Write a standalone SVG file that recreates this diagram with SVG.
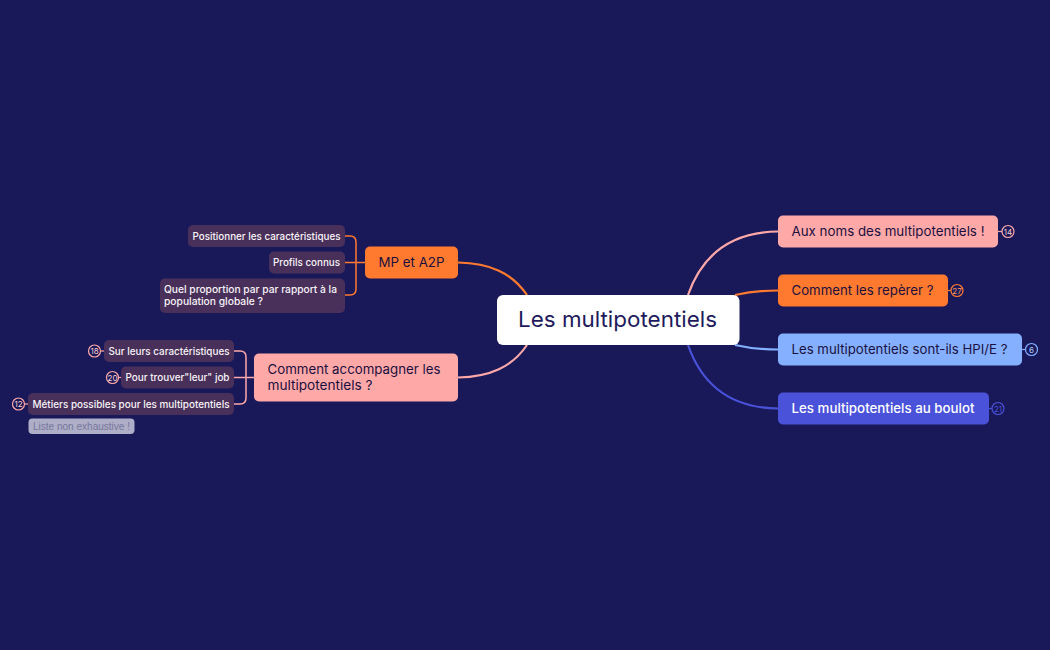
<svg xmlns="http://www.w3.org/2000/svg" width="1050" height="650" viewBox="0 0 1050 650">
<style>
text{font-family:"Inter","Noto Sans",sans-serif;}
.c{fill:none;stroke-width:2.2;}
.pk{stroke:#ffa8a8;}.or{stroke:#ff7a2e;}.bl{stroke:#85b0ff;}.in{stroke:#4a52d9;}
.t1{font-size:13px;fill:#1a1040;}
.t2{font-size:10px;fill:#f8f4f8;font-weight:500;}
.s{fill:#48305a;}
.b{fill:none;stroke-width:1.2;}
.bn{font-size:8px;text-anchor:middle;}
</style>
<rect width="1050" height="650" fill="#19195a"/>
<g id="connectors">
<path class="c pk" d="M688 295C702 255 730 232 778 231.500"/>
<path class="c or" d="M735 295C748 292 760 290.500 778 290.500"/>
<path class="c bl" d="M735 345C748 348 760 349.500 778 349.500"/>
<path class="c in" d="M688 345C702 385 730 408 778 408.500"/>
<path class="c or" d="M458 262.500C490 263 512 273 527 295"/>
<path class="c pk" d="M458 377.500C490 377 512 367 527 345"/>
<path class="c or" style="stroke-width:1.5" d="M345 236H350Q356 236 356 242V289Q356 295 350 295H345M345 262.500H365"/>
<path class="c pk" style="stroke-width:1.5" d="M234 351H240Q246 351 246 357V398Q246 404 240 404H234M234 377.500H254"/>
</g>
<g id="root"><rect x="497" y="295" width="242.500" height="50" rx="6" fill="#fff"/><text x="518" y="327" font-size="22" fill="#1e1a5c" textLength="199" lengthAdjust="spacingAndGlyphs">Les multipotentiels</text></g>
<g id="n-aux"><rect x="778" y="215.500" width="220" height="32" rx="5" fill="#ffa8a8"/><text class="t1" x="791.500" y="236" textLength="193" lengthAdjust="spacingAndGlyphs">Aux noms des multipotentiels !</text>
<path class="b" stroke="#ffa8a8" d="M998 231.500H1002"/><circle cx="1008" cy="231.500" r="6" class="b" stroke="#ffa8a8"/><text class="bn" x="1008" y="234.500" fill="#ffd0d0">14</text></g>
<g id="n-rep"><rect x="778" y="274.500" width="170" height="32" rx="5" fill="#ff7a2e"/><text class="t1" x="791.500" y="295" textLength="142" lengthAdjust="spacingAndGlyphs">Comment les repèrer ?</text>
<path class="b" stroke="#ff7a2e" d="M948 290.500H951"/><circle cx="957" cy="290.500" r="6" class="b" stroke="#ff7a2e"/><text class="bn" x="957" y="293.500" fill="#ff9a5e">27</text></g>
<g id="n-hpi"><rect x="778" y="333.500" width="244" height="32" rx="5" fill="#85b0ff"/><text class="t1" x="791.500" y="354" textLength="216" lengthAdjust="spacingAndGlyphs">Les multipotentiels sont-ils HPI/E ?</text>
<path class="b" stroke="#85b0ff" d="M1022 349.500H1025"/><circle cx="1031.500" cy="349.500" r="6" class="b" stroke="#85b0ff"/><text class="bn" x="1031.500" y="352.500" fill="#b0ccff">6</text></g>
<g id="n-boulot"><rect x="778" y="392.500" width="211" height="32" rx="5" fill="#4a52d9"/><text class="t1" style="fill:#fff;font-weight:500" x="791.500" y="413" textLength="183" lengthAdjust="spacingAndGlyphs">Les multipotentiels au boulot</text>
<path class="b" stroke="#4a52d9" d="M989 408.500H992"/><circle cx="998" cy="408.500" r="6" class="b" stroke="#4a52d9"/><text class="bn" x="998" y="411.500" fill="#4a52d9">21</text></g>
<g id="n-mp"><rect x="365" y="246.500" width="93" height="32" rx="5" fill="#ff7a2e"/><text class="t1" x="378.500" y="267" textLength="66" lengthAdjust="spacingAndGlyphs">MP et A2P</text></g>
<g id="n-acc"><rect x="254" y="353.500" width="204" height="48" rx="5" fill="#ffa8a8"/><text class="t1" x="267.500" y="374" textLength="173" lengthAdjust="spacingAndGlyphs">Comment accompagner les</text><text class="t1" x="267.500" y="390" textLength="105" lengthAdjust="spacingAndGlyphs">multipotentiels ?</text></g>
<g id="n-pos"><rect class="s" x="188" y="225" width="157" height="22" rx="5"/><text class="t2" x="192.500" y="240" textLength="148" lengthAdjust="spacingAndGlyphs">Positionner les caractéristiques</text></g>
<g id="n-pro"><rect class="s" x="269" y="251.500" width="76" height="22" rx="5"/><text class="t2" x="273" y="266" textLength="67" lengthAdjust="spacingAndGlyphs">Profils connus</text></g>
<g id="n-quel"><rect class="s" x="160" y="278.500" width="185" height="34.500" rx="5"/><text class="t2" x="164" y="293" textLength="173" lengthAdjust="spacingAndGlyphs">Quel proportion par par rapport à la</text><text class="t2" x="164" y="305" textLength="99" lengthAdjust="spacingAndGlyphs">population globale ?</text></g>
<g id="n-sur"><rect class="s" x="104" y="340" width="130" height="22" rx="5"/><text class="t2" x="108.500" y="354.500" textLength="121" lengthAdjust="spacingAndGlyphs">Sur leurs caractéristiques</text>
<path class="b" stroke="#ffa8a8" d="M101 351H104"/><circle cx="94.500" cy="351" r="6" class="b" stroke="#ffa8a8"/><text class="bn" x="94.500" y="354" fill="#ffd0d0">18</text></g>
<g id="n-job"><rect class="s" x="121" y="366.500" width="113" height="22" rx="5"/><text class="t2" x="125.500" y="381" textLength="104" lengthAdjust="spacingAndGlyphs">Pour trouver"leur" job</text>
<path class="b" stroke="#ffa8a8" d="M118 377.500H121"/><circle cx="112.500" cy="377.500" r="6" class="b" stroke="#ffa8a8"/><text class="bn" x="112.500" y="380.500" fill="#ffd0d0">20</text></g>
<g id="n-met"><rect class="s" x="28" y="393" width="206" height="22" rx="5"/><text class="t2" x="32.500" y="407.500" textLength="197" lengthAdjust="spacingAndGlyphs">Métiers possibles pour les multipotentiels</text>
<path class="b" stroke="#ffa8a8" d="M25 404H28"/><circle cx="18.500" cy="404" r="6" class="b" stroke="#ffa8a8"/><text class="bn" x="18.500" y="407" fill="#ffd0d0">12</text>
<rect x="28.500" y="418.500" width="106" height="15.500" rx="4" fill="#aeaec8"/><text x="33" y="430" font-size="10" style="font-family:'Liberation Sans',sans-serif" fill="#77779a" textLength="97" lengthAdjust="spacingAndGlyphs">Liste non exhaustive !</text></g>
</svg>
